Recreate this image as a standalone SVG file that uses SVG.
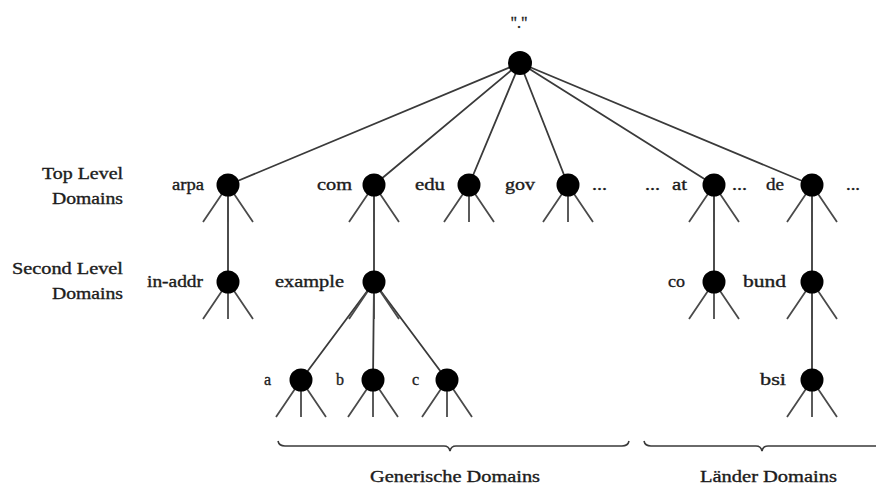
<svg xmlns="http://www.w3.org/2000/svg" width="876" height="487" viewBox="0 0 876 487">
  <style>
    .edge { stroke: #3a3a3a; stroke-width: 1.8; fill: none; }
    .leg { stroke: #4a4a4a; stroke-width: 1.8; fill: none; }
    .dot { fill: #000; }
    .lbl { font-family: "Liberation Serif", "Times New Roman", serif; font-size: 16px; fill: #1c1c1c; stroke: #1c1c1c; stroke-width: 0.35; }
    .r { text-anchor: end; }
    .brace { stroke: #3a3a3a; stroke-width: 1.6; fill: none; }
  </style>
  <defs>
    <!-- a node: black dot with three stub branches underneath -->
    <g id="stub">
      <path class="leg" d="M0,0 L-25,37 M0,0 L0,37 M0,0 L25,37"/>
      <circle class="dot" r="11.5"/>
    </g>
  </defs>
  <rect width="876" height="487" fill="#fff"/>

  <!-- row captions -->
  <g id="caption-top">
    <text class="lbl" x="42" y="179" textLength="81" lengthAdjust="spacingAndGlyphs">Top Level</text>
    <text class="lbl" x="52" y="204" textLength="71" lengthAdjust="spacingAndGlyphs">Domains</text>
  </g>
  <g id="caption-second">
    <text class="lbl" x="12" y="274" textLength="111" lengthAdjust="spacingAndGlyphs">Second Level</text>
    <text class="lbl" x="52" y="299" textLength="71" lengthAdjust="spacingAndGlyphs">Domains</text>
  </g>

  <!-- connectors -->
  <g id="connectors">
    <path class="edge" d="M520,63 L228,185 M520,63 L374,185 M520,63 L469,185 M520,63 L568,185 M520,63 L714,185 M520,63 L812,185"/>
    <path class="edge" d="M228,185 L228,282 M374,185 L374,282 M714,185 L714,282 M812,185 L812,282 M812,282 L812,380"/>
    <path class="edge" d="M374,282 L301,380 M374,282 L373,380 M374,282 L447,380"/>
  </g>

  <!-- root -->
  <g id="root">
    <circle class="dot" cx="520" cy="63" r="12"/>
    <text class="lbl" x="519" y="28" text-anchor="middle">"."</text>
  </g>

  <!-- top level domains -->
  <g id="arpa"><use href="#stub" x="228" y="185"/><text class="lbl" x="172" y="190" textLength="32" lengthAdjust="spacingAndGlyphs">arpa</text></g>
  <g id="com"><use href="#stub" x="374" y="185"/><text class="lbl" x="317" y="190" textLength="35" lengthAdjust="spacingAndGlyphs">com</text></g>
  <g id="edu"><use href="#stub" x="469" y="185"/><text class="lbl" x="415" y="190" textLength="30" lengthAdjust="spacingAndGlyphs">edu</text></g>
  <g id="gov"><use href="#stub" x="568" y="185"/><text class="lbl" x="505" y="190" textLength="30" lengthAdjust="spacingAndGlyphs">gov</text><text class="lbl" x="592" y="190" textLength="15" lengthAdjust="spacingAndGlyphs">...</text></g>
  <g id="at"><use href="#stub" x="714" y="185"/><text class="lbl" x="645" y="190" textLength="15" lengthAdjust="spacingAndGlyphs">...</text><text class="lbl" x="672" y="190" textLength="15" lengthAdjust="spacingAndGlyphs">at</text><text class="lbl" x="732" y="190" textLength="15" lengthAdjust="spacingAndGlyphs">...</text></g>
  <g id="de"><use href="#stub" x="812" y="185"/><text class="lbl" x="766" y="190" textLength="18" lengthAdjust="spacingAndGlyphs">de</text><text class="lbl" x="846" y="190" textLength="14" lengthAdjust="spacingAndGlyphs">...</text></g>

  <!-- second level domains -->
  <g id="in-addr"><use href="#stub" x="228" y="282"/><text class="lbl" x="147" y="287" textLength="56" lengthAdjust="spacingAndGlyphs">in-addr</text></g>
  <g id="example"><use href="#stub" x="374" y="282"/><text class="lbl" x="275" y="287" textLength="69" lengthAdjust="spacingAndGlyphs">example</text></g>
  <g id="co"><use href="#stub" x="714" y="282"/><text class="lbl" x="668" y="287" textLength="17" lengthAdjust="spacingAndGlyphs">co</text></g>
  <g id="bund"><use href="#stub" x="812" y="282"/><text class="lbl" x="743" y="287" textLength="43" lengthAdjust="spacingAndGlyphs">bund</text></g>

  <!-- third level domains -->
  <g id="a"><use href="#stub" x="301" y="380"/><text class="lbl" x="264" y="385">a</text></g>
  <g id="b"><use href="#stub" x="373" y="380"/><text class="lbl" x="336" y="385">b</text></g>
  <g id="c"><use href="#stub" x="447" y="380"/><text class="lbl" x="412" y="385">c</text></g>
  <g id="bsi"><use href="#stub" x="812" y="380"/><text class="lbl" x="760" y="385" textLength="26" lengthAdjust="spacingAndGlyphs">bsi</text></g>

  <!-- groupings -->
  <g id="generic">
    <path class="brace" d="M278,441 Q279,446 285,446 L444,446 Q449,446 450,451 Q451,446 456,446 L622,446 Q628,446 629,441"/>
    <text class="lbl" x="370" y="482" textLength="170" lengthAdjust="spacingAndGlyphs">Generische Domains</text>
  </g>
  <g id="country">
    <path class="brace" d="M644,441 Q645,446 651,446 L756,446 Q761,446 762,451 Q763,446 768,446 L880,446"/>
    <text class="lbl" x="700" y="482" textLength="137" lengthAdjust="spacingAndGlyphs">Länder Domains</text>
  </g>
</svg>
